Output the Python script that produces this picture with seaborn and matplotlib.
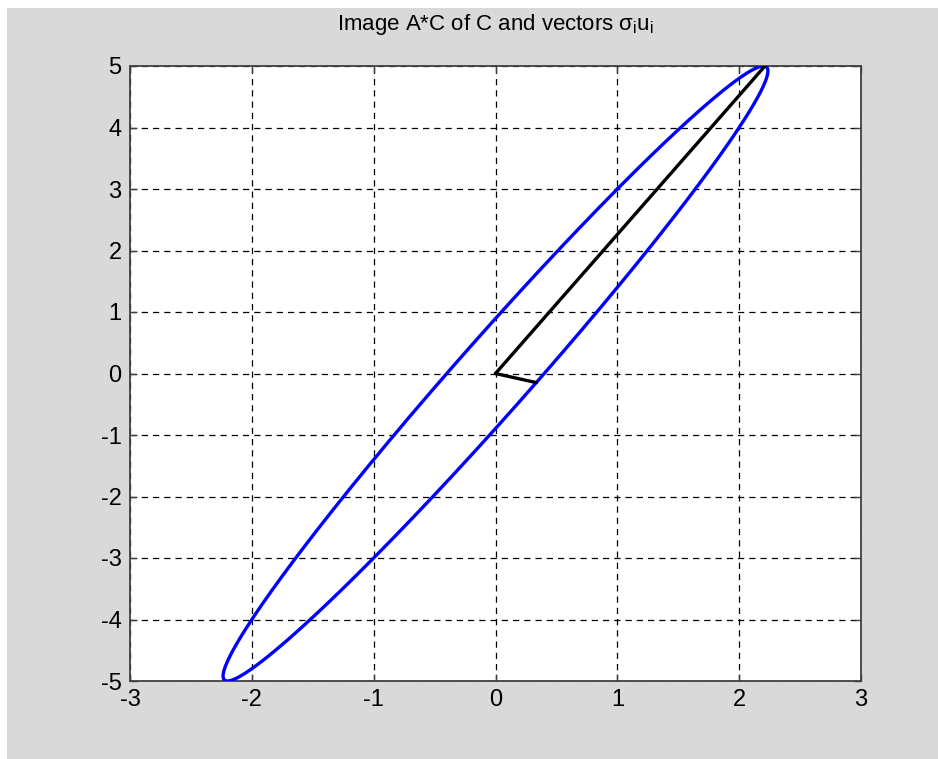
import numpy as np
import pandas as pd
import matplotlib
matplotlib.use("Agg")
import matplotlib.pyplot as plt
import seaborn as sns
from matplotlib.patches import Rectangle

# Data: the matrix A, the unit circle C is mapped through it
A = [[1.0, 2.0],
     [3.0, 4.0]]
n_points = 401
x_ticks = [-3, -2, -1, 0, 1, 2, 3]
y_ticks = [-5, -4, -3, -2, -1, 0, 1, 2, 3, 4, 5]
title_text = r"Image A*C of C and vectors $\mathregular{\sigma_i u_i}$"

Am = np.array(A)
t = np.linspace(0, 2 * np.pi, n_points)
circle = np.vstack([np.cos(t), np.sin(t)])
img = Am @ circle
ell = pd.DataFrame({"x": img[0], "y": img[1], "order": np.arange(n_points)})

U, S, Vt = np.linalg.svd(Am)
v1 = U[:, 0] * S[0]
v1 = v1 * np.sign(v1[1])
v2 = U[:, 1] * S[1]
v2 = v2 * np.sign(v2[0])
vec1 = pd.DataFrame({"x": [0, v1[0]], "y": [0, v1[1]]})
vec2 = pd.DataFrame({"x": [0, v2[0]], "y": [0, v2[1]]})

sns.set_style("white")
plt.rcParams["font.family"] = ["Liberation Sans", "DejaVu Sans"]

fig = plt.figure(figsize=(9.38, 7.59), dpi=100, facecolor="white")
fig.patches.append(Rectangle((7 / 938, 0), 1, 1 - 8 / 759, transform=fig.transFigure,
                             facecolor="#d9d9d9", edgecolor="none", zorder=-10))
ax = fig.add_axes([130 / 938, 1 - 681 / 759, 731 / 938, 615 / 759])
ax.set_facecolor("white")

sns.lineplot(data=ell, x="x", y="y", sort=False, estimator=None, color="#0000ff",
             linewidth=2.4, ax=ax, zorder=3)
sns.lineplot(data=vec1, x="x", y="y", sort=False, estimator=None, color="black",
             linewidth=2.4, ax=ax, zorder=4)
sns.lineplot(data=vec2, x="x", y="y", sort=False, estimator=None, color="black",
             linewidth=2.4, ax=ax, zorder=4)

ax.set_xlim(-3, 3)
ax.set_ylim(-5, 5)
ax.set_xticks(x_ticks)
ax.set_yticks(y_ticks)
ax.set_xticklabels([str(v) for v in x_ticks])
ax.set_yticklabels([str(v) for v in y_ticks])
ax.set_xlabel("")
ax.set_ylabel("")
ax.grid(True, color="black", linestyle=(0, (5, 4)), linewidth=0.9)
ax.set_axisbelow(True)
for s in ax.spines.values():
    s.set_color("#404040")
    s.set_linewidth(1.3)
ax.tick_params(axis="both", which="both", direction="in", length=5, width=1,
               color="#404040", labelsize=17, labelcolor="black",
               top=True, right=True, bottom=True, left=True, pad=6)
ax.set_title(title_text, fontsize=16, pad=26, color="black")

fig.savefig("out.png", dpi=100, facecolor=fig.get_facecolor())
